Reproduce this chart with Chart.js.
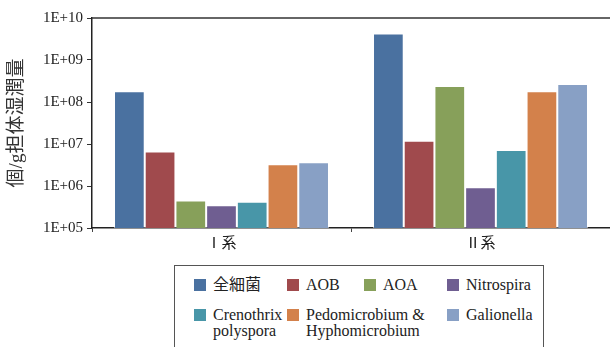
<!DOCTYPE html>
<html>
<head>
<meta charset="utf-8">
<script src="https://cdn.jsdelivr.net/npm/chart.js@4/dist/chart.umd.min.js"></script>
<style>
  body { margin: 0; background: #fff; }
  #wrap { position: relative; width: 610px; height: 347px; overflow: hidden; }
  #chart { position: absolute; left: 0; top: 0; }
  #legend {
    position: absolute; left: 174px; top: 265px; width: 370px; height: 90px;
    border: 1px solid #555; box-sizing: border-box;
    font-family: "Liberation Serif", "Times New Roman", "Noto Sans CJK JP", serif;
    font-size: 16px; color: #222;
  }
  .item { position: absolute; line-height: 16px; }
  .box { position: absolute; width: 12px; height: 12px; }
  .lab { position: absolute; white-space: pre; }
</style>
</head>
<body>
<div id="wrap">
  <canvas id="chart" width="610" height="260"></canvas>
  <div id="legend"></div>
</div>
<script>
// 系統別・菌種別の菌数 (個/g担体湿潤量)
const categories = ['Ⅰ系', 'Ⅱ系'];
const seriesNames = ['全細菌', 'AOB', 'AOA', 'Nitrospira', 'Crenothrix\npolyspora', 'Pedomicrobium &\nHyphomicrobium', 'Galionella'];
const allBacteria = [1.8e8, 4.3e9];
const aob = [6.6e6, 1.2e7];
const aoa = [4.5e5, 2.4e8];
const nitrospira = [3.5e5, 9.3e5];
const crenothrix = [4.2e5, 7.2e6];
const pedomicrobium = [3.3e6, 1.8e8];
const galionella = [3.7e6, 2.7e8];
const yTickExponents = [5, 6, 7, 8, 9, 10];

const seriesValues = [allBacteria, aob, aoa, nitrospira, crenothrix, pedomicrobium, galionella];
const colors = ['#4A71A0', '#A04A4D', '#87A05A', '#6F5E91', '#4896A8', '#D3814B', '#88A0C5'];

const serif = '"Liberation Serif", "Times New Roman", "Noto Sans CJK JP", serif';

// 上辺の枠線
const topLine = {
  id: 'topLine',
  afterDraw(chart) {
    const { ctx, chartArea } = chart;
    ctx.save();
    ctx.strokeStyle = '#333';
    ctx.lineWidth = 1.5;
    ctx.beginPath();
    ctx.moveTo(chartArea.left, chartArea.top);
    ctx.lineTo(chartArea.right, chartArea.top);
    ctx.stroke();
    ctx.restore();
  }
};

const datasets = seriesNames.map((name, i) => ({
  label: name,
  data: seriesValues[i],
  backgroundColor: colors[i],
  borderColor: 'rgba(255,255,255,0.55)',
  borderWidth: 1,
  barPercentage: 1,
  categoryPercentage: 0.83
}));

new Chart(document.getElementById('chart'), {
  type: 'bar',
  data: { labels: categories, datasets: datasets },
  plugins: [topLine],
  options: {
    responsive: false,
    animation: false,
    layout: { padding: { left: 0, right: 0, top: 18, bottom: 0 } },
    plugins: { legend: { display: false }, tooltip: { enabled: false } },
    scales: {
      x: {
        grid: { offset: true, drawOnChartArea: false, tickLength: 4, color: '#444' },
        border: { color: '#222', width: 1.5 },
        ticks: { color: '#222', padding: 3, font: { family: serif, size: 15 } },
        afterFit: s => { s.height = 32; }
      },
      y: {
        type: 'logarithmic',
        min: 1e5,
        max: 1e10,
        grid: { drawOnChartArea: false, tickLength: 5, color: '#333' },
        border: { color: '#222', width: 1.5 },
        afterBuildTicks: s => { s.ticks = yTickExponents.map(e => ({ value: Math.pow(10, e) })); },
        ticks: {
          color: '#222',
          padding: 4,
          font: { family: serif, size: 15 },
          callback: v => '1E+' + String(Math.round(Math.log10(v))).padStart(2, '0')
        },
        title: {
          display: true,
          text: '個/g担体湿潤量',
          color: '#333',
          font: { family: serif, size: 19, lineHeight: 1 },
          padding: { top: 8, bottom: 0 }
        },
        afterFit: s => { s.width = 92; }
      }
    }
  }
});

// 凡例 (1行目4項目、2行目3項目)
const legendSlots = [
  [19, 13], [112, 13], [189, 13], [272, 13],
  [19, 43], [112, 43], [272, 43]
];
const legend = document.getElementById('legend');
seriesNames.forEach((name, i) => {
  const item = document.createElement('div');
  item.className = 'item';
  item.style.left = legendSlots[i][0] + 'px';
  item.style.top = legendSlots[i][1] + 'px';
  item.innerHTML = '<div class="box" style="left:0;top:0;background:' + colors[i] + '"></div>' +
    '<div class="lab" style="left:19px;top:-2px"></div>';
  item.querySelector('.lab').textContent = name;
  legend.appendChild(item);
});
</script>
</body>
</html>
